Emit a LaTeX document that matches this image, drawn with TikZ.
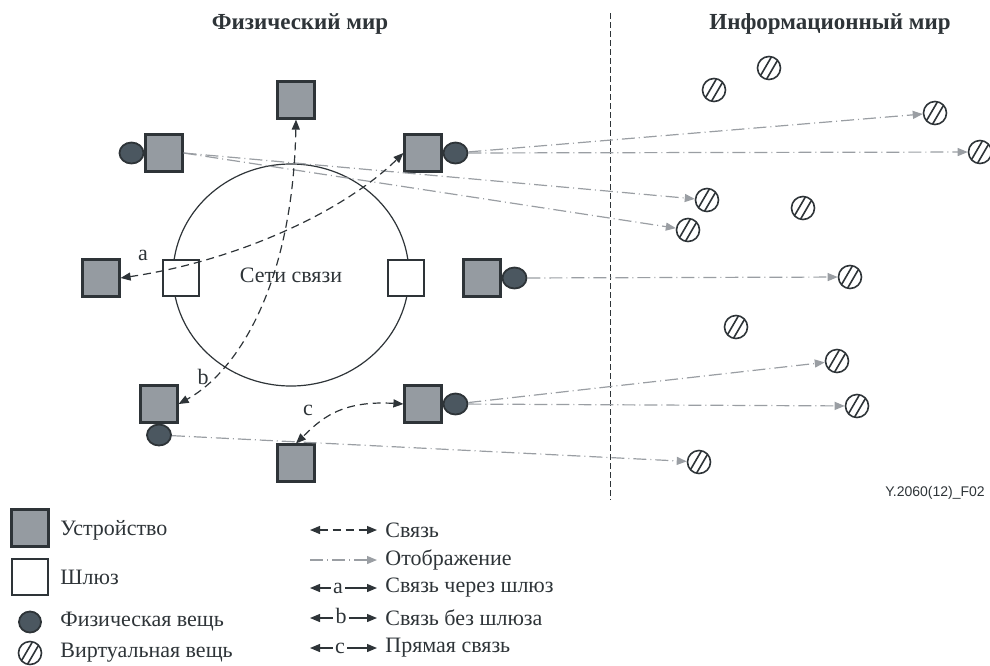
\documentclass[tikz,border=0pt]{standalone}
\usepackage{fontspec}
\setmainfont{Liberation Serif}
\newfontfamily\idfont{Liberation Sans}
\usetikzlibrary{positioning,arrows.meta,shapes.geometric}
\definecolor{ink}{HTML}{2E3438}
\definecolor{devfill}{HTML}{959BA1}
\definecolor{physfill}{HTML}{4B5760}
\definecolor{mapgray}{HTML}{9A9EA3}

\begin{document}
\begin{tikzpicture}[x=0.5pt,y=-0.5pt,>={Triangle[length=5pt,width=4pt]},
  dev/.style={draw=ink,fill=devfill,line width=1.1pt,minimum size=18.5pt,inner sep=0pt},
  gw/.style={draw=ink,fill=white,line width=1pt,minimum size=18pt,inner sep=0pt},
  phys/.style={ellipse,draw=ink,fill=physfill,line width=0.9pt,minimum width=12pt,minimum height=10.5pt,inner sep=0pt},
  virt/.style={circle,draw=ink,line width=0.8pt,minimum size=11.5pt,inner sep=0pt,path picture={
    \draw[ink,line width=0.8pt] ([shift={(-1.5pt,0.9pt)}]path picture bounding box.center) ++(-3.5pt,-6pt) -- ++(7pt,12pt);
    \draw[ink,line width=0.8pt] ([shift={(1.5pt,-0.9pt)}]path picture bounding box.center) ++(-3.5pt,-6pt) -- ++(7pt,12pt);}},
  netw/.style={ellipse,draw=ink,line width=0.6pt,minimum width=118pt,minimum height=111pt,inner sep=0pt,font=\fontsize{11}{13}\selectfont,text=ink},
  link/.style={<->,draw=ink,line width=0.6pt,dash pattern=on 4pt off 2.5pt},
  map/.style={->,draw=mapgray,line width=0.6pt,dash pattern=on 6.5pt off 2pt on 0.5pt off 2pt},
  lbl/.style={font=\fontsize{11}{13}\selectfont,text=ink,inner sep=1pt},
  title/.style={font=\fontsize{11.5}{14}\selectfont\bfseries,text=ink}]
\useasboundingbox (0,0) rectangle (990,665);
\node[title] (tphys) at (300,24) {Физический мир};
\node[title] (tinfo) at (830,24) {Информационный мир};
\draw[ink,line width=0.5pt,dash pattern=on 3pt off 1.5pt] (610,13) -- (610,500);
\node[netw] (net) at (291,275) {Сети связи};
\node[gw] (g1) at (181,278) {};
\node[gw] (g2) at (406,278) {};
\node[dev] (d1) at (296,100) {};
\node[dev] (d2) at (164,153) {};
\node[phys,left=0pt of d2] (p2) {};
\node[dev] (d3) at (423,153) {};
\node[phys,right=0pt of d3] (p3) {};
\node[dev] (d4) at (101,278) {};
\node[dev] (d5) at (482,278) {};
\node[phys,right=0pt of d5] (p5) {};
\node[dev] (d6) at (159,404) {};
\node[phys,below=0pt of d6] (p6) {};
\node[dev] (d7) at (423,404) {};
\node[phys,right=0pt of d7] (p7) {};
\node[dev] (d8) at (296,463) {};
\node[virt] (v1) at (714,90) {};
\node[virt] (v2) at (769,68) {};
\node[virt] (v3) at (935,113) {};
\node[virt] (v4) at (980,152) {};
\node[virt] (v5) at (707,200) {};
\node[virt] (v6) at (803,208) {};
\node[virt] (v7) at (688,230) {};
\node[virt] (v8) at (850,277) {};
\node[virt] (v9) at (736,327) {};
\node[virt] (v10) at (837,361) {};
\node[virt] (v11) at (857,406) {};
\node[virt] (v12) at (699,462) {};
\draw[map] (d2.east) -- (v5);
\draw[map] (d2.east) -- (v7);
\draw[map] (p3) -- (v3);
\draw[map] (p3) -- (v4);
\draw[map] (p5) -- (v8);
\draw[map] (p7) -- (v10);
\draw[map] (p7) -- (v11);
\draw[map] (p6) -- (v12);
\draw[link] (d4.east) .. controls (230,262) and (340,215) .. (d3.west);
\draw[link] (d1.south) .. controls (293,280) and (240,370) .. (d6.east);
\draw[link] (d7.west) .. controls (340,400) and (320,420) .. (d8.north);
\node[lbl] (la) at (143,255) {a};
\node[lbl] (lb) at (203,377) {b};
\node[lbl] (lc) at (308,410) {c};
\node[font=\idfont\fontsize{7}{8}\selectfont,text=ink] (figid) at (935,493) {Y.2060(12)\_F02};
\node[dev] (kd) at (30,528) {};
\node[lbl,anchor=west] (kdt) at (58,530) {Устройство};
\node[gw] (kg) at (30,577) {};
\node[lbl,anchor=west] (kgt) at (58,577) {Шлюз};
\node[phys,minimum width=11pt,minimum height=10.5pt] (kp) at (30,622) {};
\node[lbl,anchor=west] (kpt) at (58,622) {Физическая вещь};
\node[virt] (kv) at (30,653) {};
\node[lbl,anchor=west] (kvt) at (58,653) {Виртуальная вещь};
\coordinate (k1a) at (310,530);
\coordinate (k2a) at (310,560);
\coordinate (k3a) at (310,588);
\coordinate (k4a) at (310,618);
\coordinate (k5a) at (310,648);
\node[lbl,anchor=west] (k1) at (383,530) {Связь};
\node[lbl,anchor=west] (k2) at (383,560) {Отображение};
\node[lbl,anchor=west] (k3) at (383,588) {Связь через шлюз};
\node[lbl,anchor=west] (k4) at (383,618) {Связь без шлюза};
\node[lbl,anchor=west] (k5) at (383,648) {Прямая связь};
\node[lbl,anchor=base] (ka) at (338,593) {a};
\node[lbl,anchor=base] (kb) at (341,623) {b};
\node[lbl,anchor=base] (kc) at (340,653) {c};
\draw[link] (k1a) -- ([xshift=-3pt]k1.west);
\draw[map] (k2a) -- ([xshift=-3pt]k2.west);
\draw[->,ink,line width=0.6pt] (ka.west |- k3a) -- (k3a);
\draw[->,ink,line width=0.6pt] (ka.east |- k3a) -- ([xshift=-3pt]k3.west);
\draw[->,ink,line width=0.6pt] (kb.west |- k4a) -- (k4a);
\draw[->,ink,line width=0.6pt] (kb.east |- k4a) -- ([xshift=-3pt]k4.west);
\draw[->,ink,line width=0.6pt] (kc.west |- k5a) -- (k5a);
\draw[->,ink,line width=0.6pt] (kc.east |- k5a) -- ([xshift=-3pt]k5.west);
\end{tikzpicture}
\end{document}
